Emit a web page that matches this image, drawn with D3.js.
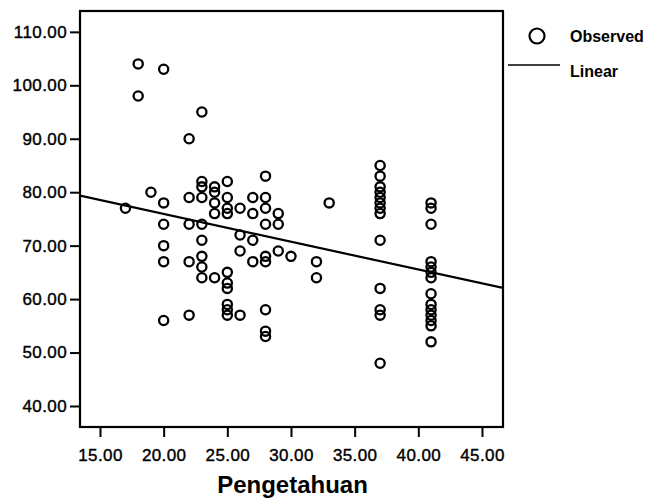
<!DOCTYPE html>
<html>
<head>
<meta charset="utf-8">
<script src="https://cdn.jsdelivr.net/npm/d3@7"></script>
<style>
  body { margin: 0; background: #fff; }
  svg { display: block; }
  text { font-family: "Liberation Sans", Arial, sans-serif; fill: #000; }
</style>
</head>
<body>
<div id="chart"></div>
<script>
// observed points (x = Pengetahuan, y = score)
var pengetahuan = [
  17,
  18, 18,
  19,
  20, 20, 20, 20, 20, 20,
  22, 22, 22, 22, 22,
  23, 23, 23, 23, 23, 23, 23, 23, 23,
  24, 24, 24, 24, 24,
  25, 25, 25, 25, 25, 25, 25, 25, 25, 25,
  26, 26, 26, 26,
  27, 27, 27, 27,
  28, 28, 28, 28, 28, 28, 28, 28, 28,
  29, 29, 29,
  30,
  32, 32,
  33,
  37, 37, 37, 37, 37, 37, 37, 37, 37, 37, 37, 37, 37,
  41, 41, 41, 41, 41, 41, 41, 41, 41, 41, 41, 41, 41, 41
];
var skor = [
  77,
  104, 98,
  80,
  103, 78, 74, 70, 67, 56,
  90, 79, 74, 67, 57,
  95, 82, 81, 79, 74, 71, 68, 66, 64,
  81, 80, 78, 76, 64,
  82, 79, 77, 76, 65, 63, 62, 59, 58, 57,
  77, 72, 69, 57,
  79, 76, 71, 67,
  83, 79, 77, 74, 68, 67, 58, 54, 53,
  76, 74, 69,
  68,
  67, 64,
  78,
  85, 83, 81, 80, 79, 78, 77, 76, 71, 62, 58, 57, 48,
  78, 77, 74, 67, 66, 65, 64, 61, 59, 58, 57, 56, 55, 52
];

var xTicks = [15, 20, 25, 30, 35, 40, 45];
var yTicks = [40, 50, 60, 70, 80, 90, 100, 110];
var xDomain = [13.43, 46.65];
var yDomain = [36.07, 113.9];
var xTitle = "Pengetahuan";
var legendLabels = ["Observed", "Linear"];

var width = 650, height = 498;
var plot = {left: 80, top: 11, right: 503, bottom: 427};

var svg = d3.select("#chart").append("svg")
    .attr("width", width)
    .attr("height", height);

var x = d3.scaleLinear().domain(xDomain).range([plot.left, plot.right]);
var y = d3.scaleLinear().domain(yDomain).range([plot.bottom, plot.top]);

// least squares fit
var mx = d3.mean(pengetahuan), my = d3.mean(skor);
var sxy = 0, sxx = 0;
pengetahuan.forEach(function(v, i){
  sxy += (v - mx) * (skor[i] - my);
  sxx += (v - mx) * (v - mx);
});
var slope = sxy / sxx;
var intercept = my - slope * mx;

// axes
var yAxis = svg.append("g")
    .attr("transform", "translate(" + plot.left + ",0)")
    .call(d3.axisLeft(y).tickValues(yTicks).tickFormat(d3.format(".2f"))
      .tickSize(10).tickSizeOuter(0).tickPadding(3));
var xAxis = svg.append("g")
    .attr("transform", "translate(0," + plot.bottom + ")")
    .call(d3.axisBottom(x).tickValues(xTicks).tickFormat(d3.format(".2f"))
      .tickSize(10).tickSizeOuter(0).tickPadding(12));

[xAxis, yAxis].forEach(function(g){
  g.select(".domain").remove();
  g.selectAll(".tick line").attr("stroke", "#000").attr("stroke-width", 2);
  g.selectAll(".tick text")
    .style("font-family", "'Liberation Sans', Arial, sans-serif")
    .style("font-size", "17px")
    .style("letter-spacing", "0.4px")
    .attr("fill", "#000")
    .attr("stroke", "#000")
    .attr("stroke-width", 0.4);
});

svg.append("clipPath").attr("id", "clip")
  .append("rect")
    .attr("x", plot.left).attr("y", plot.top)
    .attr("width", plot.right - plot.left)
    .attr("height", plot.bottom - plot.top);

svg.append("line")
    .attr("clip-path", "url(#clip)")
    .attr("x1", x(xDomain[0])).attr("y1", y(intercept + slope * xDomain[0]))
    .attr("x2", x(xDomain[1])).attr("y2", y(intercept + slope * xDomain[1]))
    .attr("stroke", "#000")
    .attr("stroke-width", 2.2);

svg.append("g").selectAll("circle")
    .data(pengetahuan)
    .enter().append("circle")
    .attr("cx", function(d){ return x(d); })
    .attr("cy", function(d, i){ return y(skor[i]); })
    .attr("r", 4.6)
    .attr("fill", "none")
    .attr("stroke", "#000")
    .attr("stroke-width", 2.3);

// frame
svg.append("rect")
    .attr("x", plot.left).attr("y", plot.top)
    .attr("width", plot.right - plot.left)
    .attr("height", plot.bottom - plot.top)
    .attr("fill", "none")
    .attr("stroke", "#000")
    .attr("stroke-width", 2.2);

svg.append("text")
    .attr("x", (plot.left + plot.right) / 2 + 1)
    .attr("y", 493)
    .attr("text-anchor", "middle")
    .style("font-size", "24px")
    .style("font-weight", "bold")
    .text(xTitle);

// legend
var legend = svg.append("g");
legend.append("circle")
    .attr("cx", 537).attr("cy", 36).attr("r", 7.5)
    .attr("fill", "none").attr("stroke", "#000").attr("stroke-width", 2.2);
legend.append("text")
    .attr("x", 570).attr("y", 42)
    .style("font-size", "16px").style("font-weight", "bold")
    .text(legendLabels[0]);
legend.append("line")
    .attr("x1", 508).attr("x2", 560).attr("y1", 65).attr("y2", 65)
    .attr("stroke", "#000").attr("stroke-width", 1.5);
legend.append("text")
    .attr("x", 570).attr("y", 77)
    .style("font-size", "16px").style("font-weight", "bold")
    .text(legendLabels[1]);
</script>
</body>
</html>
